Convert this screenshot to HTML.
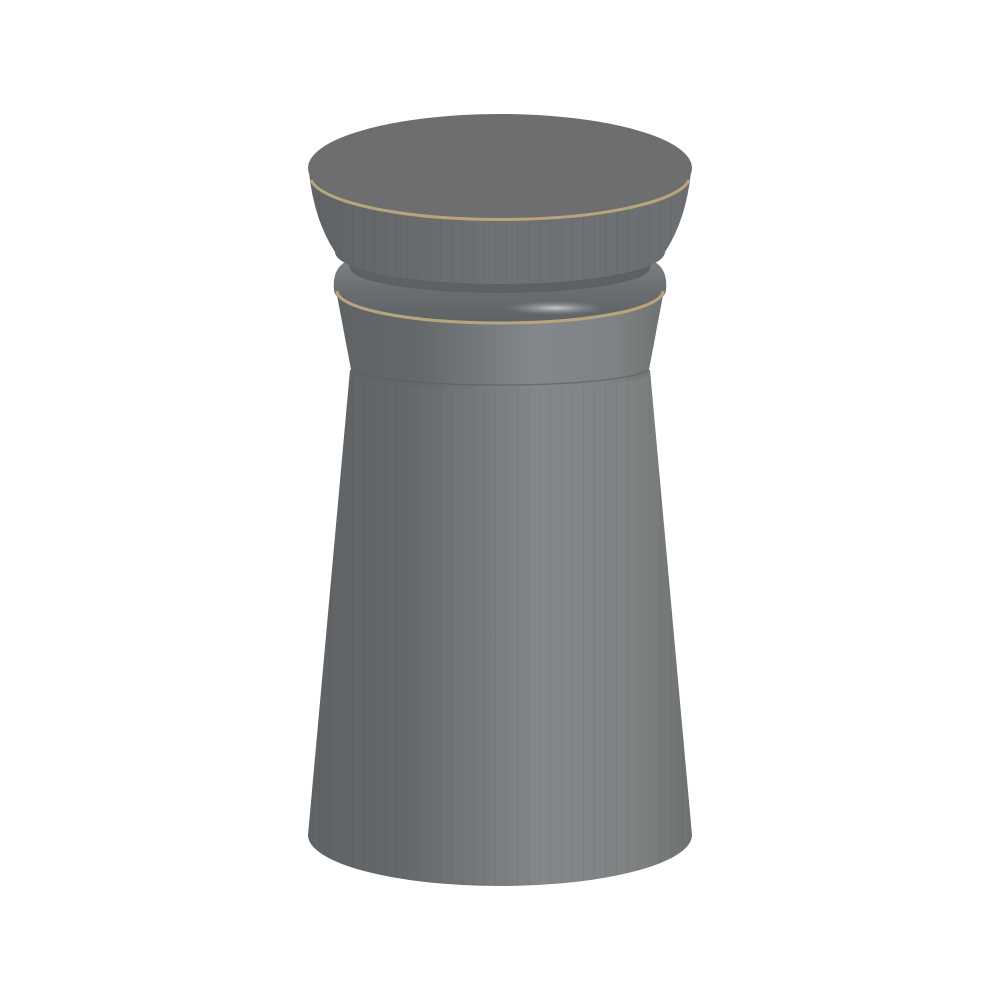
<!DOCTYPE html>
<html><head><meta charset="utf-8"><style>html,body{margin:0;padding:0;background:#fff}</style></head>
<body>
<svg width="1000" height="1000" viewBox="0 0 1000 1000">
<defs>
<linearGradient id="body" x1="0" x2="1" y1="0" y2="0">
<stop offset="0" stop-color="#606365"/><stop offset="0.25" stop-color="#65686a"/><stop offset="0.6" stop-color="#84878a"/><stop offset="0.85" stop-color="#7f8283"/><stop offset="1" stop-color="#6e7172"/>
</linearGradient>
<linearGradient id="cap" x1="0" x2="1"><stop offset="0" stop-color="#606365"/><stop offset="0.5" stop-color="#6f7274"/><stop offset="1" stop-color="#6c6f71"/></linearGradient>
<linearGradient id="ring" x1="0" y1="0" x2="0" y2="1"><stop offset="0" stop-color="#7c7f81"/><stop offset="0.5" stop-color="#6a6d6f"/><stop offset="1" stop-color="#5f6264"/></linearGradient>
<radialGradient id="hl" cx="0.5" cy="0.5" r="0.5"><stop offset="0" stop-color="#c9cbcc"/><stop offset="1" stop-color="#8a8d8f" stop-opacity="0"/></radialGradient>
<pattern id="facets" width="11" height="10" patternUnits="userSpaceOnUse"><rect x="0" width="1" height="10" fill="#000" opacity="0.05"/></pattern>
</defs>
<path d="M350 370 L308 835 A192 51 0 0 0 692 835 L650 370 Z" fill="url(#body)"/>
<path d="M350 370 L308 835 A192 51 0 0 0 692 835 L650 370 Z" fill="url(#facets)"/>
<path d="M336 290 L352 375 A150 18 0 0 0 648 375 L664 290 Z" fill="url(#body)"/>
<path d="M352 370 A150 18 0 0 0 648 370" fill="none" stroke="#5a5d5f" stroke-width="1.5" opacity="0.6"/>
<path d="M334 290 Q332 270 345 262 L655 262 Q668 270 666 290 A166 33 0 0 1 334 290 Z" fill="url(#ring)"/>
<ellipse cx="555" cy="308" rx="50" ry="7" fill="url(#hl)"/>
<path d="M337 291 A163 32 0 0 0 663 291" fill="none" stroke="#b9a57d" stroke-width="3"/>
<path d="M345 255 L655 255 L650 268 A150 25 0 0 1 350 268 Z" fill="#5e6163"/>
<path d="M309 172 Q314 220 335 252 A165 32 0 0 0 665 252 Q686 220 691 172 Z" fill="url(#cap)"/>
<path d="M309 172 Q314 220 335 252 A165 32 0 0 0 665 252 Q686 220 691 172 Z" fill="url(#facets)"/>
<ellipse cx="500" cy="168" rx="192" ry="54" fill="#6c6e6f"/>
<path d="M311 180 A190 44 0 0 0 689 180" fill="none" stroke="#b9a57d" stroke-width="3"/>
</svg>
</body></html>
